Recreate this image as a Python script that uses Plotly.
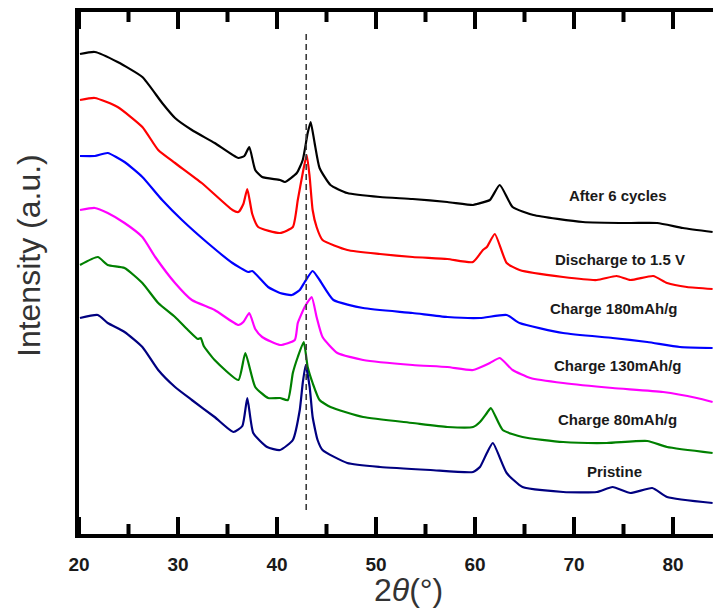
import plotly.graph_objects as go

# XRD patterns (2-theta in degrees, stacked intensity in arbitrary units)
after6_x = [20.1, 21.6, 23.9, 26.4, 28.4, 29.7, 31.4, 33.7, 36.1, 36.7, 37.2, 37.8, 38.5, 40.3, 40.8,
            42.0, 42.6, 43.1, 43.4, 43.8, 44.3, 45.4, 47.1, 50.4, 53.7, 57.2, 59.8, 60.2, 61.5,
            62.5, 63.8, 65.9, 70.9, 75.7, 78.4, 81.0, 84.0]
after6_y = [480, 482, 472, 457, 431, 416, 404, 391, 376, 378, 387, 364, 357, 354, 352,
            361, 374, 401, 412, 391, 366, 349, 341, 337, 335, 332, 329, 330, 334,
            349, 327, 319, 312, 311, 311, 306, 302]

dis15_x = [20.1, 21.6, 23.9, 26.4, 28.0, 29.7, 32.4, 35.5, 36.1, 36.6, 37.0, 37.5, 38.1, 40.3, 41.6,
           42.1, 42.6, 43.0, 43.3, 43.6, 44.0, 44.6, 47.1, 50.4, 53.7, 57.2, 59.8, 60.8, 61.2,
           62.0, 63.2, 64.5, 68.9, 72.3, 74.3, 75.7, 78.0, 79.4, 81.4, 84.0]
dis15_y = [434, 436, 427, 407, 384, 371, 351, 324, 322, 330, 345, 320, 307, 301, 307,
           334, 361, 379, 357, 324, 307, 294, 284, 280, 277, 275, 272, 284, 287,
           300, 271, 264, 257, 254, 258, 254, 258, 251, 247, 245]

ch180_x = [20.1, 21.6, 22.9, 24.6, 26.4, 28.4, 30.4, 33.0, 35.5, 37.1, 37.5, 39.1, 40.3, 41.5,
           42.3, 42.8, 43.6, 44.3, 45.7, 48.7, 53.7, 57.2, 60.5, 63.2, 64.5, 68.9, 73.9,
           77.4, 80.7, 84.0]
ch180_y = [378, 378, 381, 372, 357, 334, 314, 291, 271, 262, 263, 247, 241, 239,
           244, 252, 263, 254, 234, 226, 221, 217, 216, 219, 211, 201, 196,
           192, 187, 186]

ch130_x = [20.1, 21.6, 22.9, 24.6, 26.4, 27.7, 29.7, 31.4, 33.7, 36.1, 36.6, 37.2, 37.8, 38.5,
           40.3, 41.8, 42.1, 42.8, 43.5, 44.0, 44.6, 46.1, 48.7, 53.7, 57.2, 59.8, 61.5,
           62.5, 63.8, 65.6, 68.9, 73.9, 79.0, 82.4, 84.0]
ch130_y = [324, 326, 321, 311, 297, 277, 251, 234, 224, 209, 212, 221, 205, 197,
           189, 194, 211, 227, 237, 217, 197, 181, 174, 169, 167, 164, 171,
           176, 164, 156, 151, 146, 142, 136, 132]

ch80_x = [20.1, 21.9, 22.9, 24.6, 26.4, 28.0, 29.7, 31.0, 32.0, 32.3, 32.6, 33.7, 36.1, 36.8,
          37.8, 39.1, 40.3, 41.1, 41.6, 42.1, 42.7, 43.1, 43.6, 44.3, 45.4, 48.7, 53.7, 57.2,
          59.8, 60.5, 61.2, 61.6, 62.8, 64.8, 68.9, 73.3, 77.4, 79.4, 84.0]
ch80_y = [269, 277, 269, 266, 251, 231, 217, 204, 195, 196, 188, 174, 154, 181,
          147, 136, 136, 134, 161, 177, 192, 167, 151, 134, 127, 117, 111, 107,
          107, 112, 121, 126, 104, 97, 92, 91, 93, 87, 81]

pristine_x = [20.1, 21.9, 22.9, 24.6, 26.4, 28.0, 29.7, 31.4, 33.7, 35.6, 36.5, 37.0, 37.6, 39.0,
              40.3, 41.6, 42.3, 42.6, 42.9, 43.3, 43.6, 44.1, 44.6, 47.1, 50.4, 55.5, 59.8,
              60.5, 61.2, 61.8, 63.2, 64.8, 68.9, 72.3, 73.9, 75.7, 77.9, 79.4, 84.0]
pristine_y = [216, 219, 211, 202, 187, 164, 147, 134, 117, 102, 108, 136, 101, 87,
              84, 94, 124, 151, 169, 147, 117, 94, 84, 71, 67, 64, 62,
              67, 81, 91, 61, 47, 42, 42, 47, 41, 46, 37, 31]

series = [
    ("After 6 cycles", after6_x, after6_y, "#000000", 74.4, 339),
    ("Discharge to 1.5 V", dis15_x, dis15_y, "#ff0000", 74.6, 275),
    ("Charge 180mAh/g", ch180_x, ch180_y, "#0000ff", 74.0, 226),
    ("Charge 130mAh/g", ch130_x, ch130_y, "#ff00ff", 74.4, 169),
    ("Charge 80mAh/g", ch80_x, ch80_y, "#008000", 74.4, 115),
    ("Pristine", pristine_x, pristine_y, "#000080", 74.1, 63),
]

major_ticks = [20, 30, 40, 50, 60, 70, 80]
minor_ticks = [25, 35, 45, 55, 65, 75]
x_range = [20, 84.04]
y_range = [0, 522]
ref_peak = 42.95  # reference reflection position

FONT = "Liberation Sans, Arial, sans-serif"
plot_w, plot_h = 634, 522
px_to_y = (y_range[1] - y_range[0]) / plot_h  # y data units per pixel

fig = go.Figure()
for name, xs, ys, color, lx, ly in series:
    fig.add_trace(go.Scatter(x=xs, y=ys, mode="lines", name=name, showlegend=False,
                             line=dict(color=color, width=2.2, shape="spline", smoothing=0.5)))
    fig.add_annotation(x=lx, y=ly, text="<b>" + name + "</b>", showarrow=False,
                       xref="x", yref="y",
                       font=dict(family=FONT, size=15, color="#1a1a1a"),
                       xanchor="center", yanchor="middle")

# dashed guide at the main reflection
fig.add_trace(go.Scatter(x=[ref_peak, ref_peak], y=[24, 502], mode="lines", showlegend=False,
                         line=dict(color="#3a3a3a", width=1.6, dash="6px,4px")))


def tick_segments(vals, length_px):
    """Short vertical segments rising from the bottom edge and hanging from the top edge."""
    dy = length_px * px_to_y
    xs, ys = [], []
    for v in vals:
        xs += [v, v, None, v, v, None]
        ys += [y_range[0], y_range[0] + dy, None, y_range[1], y_range[1] - dy, None]
    return xs, ys


for vals, length in ((major_ticks, 17), (minor_ticks, 10)):
    tx, ty = tick_segments(vals, length)
    fig.add_trace(go.Scatter(x=tx, y=ty, mode="lines", showlegend=False, hoverinfo="skip",
                             connectgaps=False, line=dict(color="black", width=4)))

# axis titles placed relative to the plot area (paper units)
fig.add_annotation(x=(29 - 79) / plot_w, y=(534 - 256) / plot_h, xref="paper", yref="paper",
                   showarrow=False, text="Intensity (a.u.)", textangle=-90,
                   xanchor="center", yanchor="middle",
                   font=dict(family=FONT, size=32, color="#333333"))
fig.add_annotation(x=(408 - 79) / plot_w, y=(534 - 590) / plot_h, xref="paper", yref="paper",
                   showarrow=False, text="2<i>θ</i>(°)",
                   xanchor="center", yanchor="middle",
                   font=dict(family=FONT, size=32, color="#333333"))

fig.update_layout(
    width=713, height=611,
    margin=dict(l=79, r=0, t=12, b=77),
    plot_bgcolor="white", paper_bgcolor="white",
    xaxis=dict(
        range=x_range, showgrid=False, zeroline=False,
        showline=True, linecolor="black", linewidth=4, mirror=True,
        ticks="", tickmode="array", tickvals=major_ticks,
        ticktext=["<b>%d</b>" % v for v in major_ticks],
        ticklabelstandoff=10,
        tickfont=dict(family=FONT, size=19, color="#1a1a1a"),
    ),
    yaxis=dict(
        range=y_range, showgrid=False, zeroline=False, showticklabels=False,
        showline=True, linecolor="black", linewidth=4, ticks="",
    ),
)

fig.write_html("out.html")
